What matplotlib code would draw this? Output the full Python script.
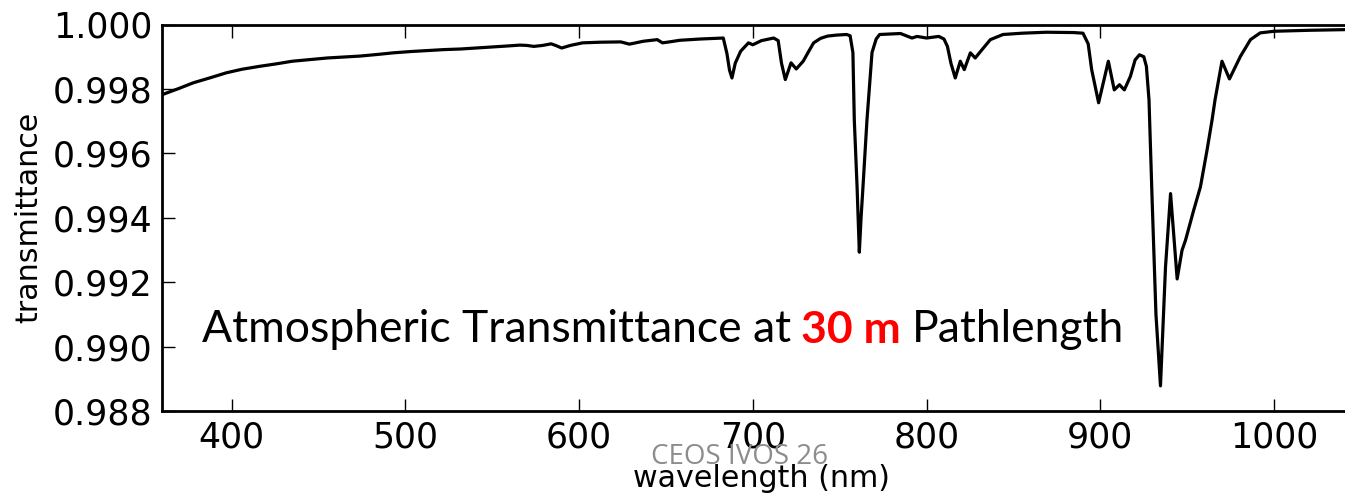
import matplotlib.pyplot as plt
from matplotlib.ticker import FormatStrFormatter

# wavelength (nm) and transmittance
wavelength = [360, 370, 378, 388, 397, 406, 416, 426, 435, 445, 455, 465, 474, 484, 493,
              503, 513, 522, 532, 541, 551, 558, 566, 570, 574, 579, 584, 587, 590, 595,
              602, 612, 624, 629, 637, 645, 648, 652, 658, 670, 683, 685.1, 686.6, 688,
              689.9, 693, 697.5, 700, 705, 712, 714.6, 716.5, 718.7, 722, 725, 729, 732,
              735, 739, 743, 748, 754, 756, 757.6, 758.4, 760, 761.3, 762.3, 763.4,
              765.7, 768.6, 771, 773, 785, 791.6, 794.5, 800, 807, 810, 812, 814, 816.5,
              819.4, 821.7, 825.2, 828, 831, 836.7, 844, 855, 869, 884.5, 890, 893, 895,
              899, 901.7, 904.6, 908, 911, 913.8, 917.3, 920, 922.5, 925, 926.5, 928,
              929.8, 932, 934.6, 937.5, 940.4, 944.2, 947, 949, 953.7, 957.6, 961.4,
              964.3, 966, 970, 974.3, 980.6, 986.4, 992, 1000, 1020, 1050]
transmittance = [0.99782, 0.99802, 0.99819, 0.99835, 0.99850, 0.99861, 0.99870, 0.99878,
                 0.99886, 0.99891, 0.99896, 0.99899, 0.99902, 0.99907, 0.99912, 0.99916,
                 0.99919, 0.99922, 0.99924, 0.99927, 0.99930, 0.99933, 0.99936, 0.99935,
                 0.99932, 0.99935, 0.99940, 0.99934, 0.99927, 0.99935, 0.99943, 0.99945,
                 0.99946, 0.99939, 0.99948, 0.99953, 0.99943, 0.99946, 0.99951, 0.99955,
                 0.99958, 0.99910, 0.99858, 0.99834, 0.99880, 0.99917, 0.99943, 0.99937,
                 0.99950, 0.99958, 0.99950, 0.99880, 0.99829, 0.99881, 0.99862, 0.99886,
                 0.99915, 0.99943, 0.99957, 0.99964, 0.99967, 0.99969, 0.99965, 0.99913,
                 0.99704, 0.99496, 0.99293, 0.99400, 0.99496, 0.99704, 0.99913, 0.99955,
                 0.99969, 0.99972, 0.99958, 0.99963, 0.99958, 0.99963, 0.99955, 0.99932,
                 0.99880, 0.99834, 0.99886, 0.99860, 0.99912, 0.99896, 0.99916, 0.99953,
                 0.99969, 0.99973, 0.99976, 0.99975, 0.99973, 0.99940, 0.99860, 0.99757,
                 0.99819, 0.99886, 0.99797, 0.99813, 0.99797, 0.99839, 0.99890, 0.99906,
                 0.99900, 0.99870, 0.99766, 0.99455, 0.99100, 0.98878, 0.99247, 0.99475,
                 0.99210, 0.99299, 0.99330, 0.99423, 0.99496, 0.99610, 0.99704, 0.99766,
                 0.99886, 0.99831, 0.99901, 0.99953, 0.99974, 0.99979, 0.99982, 0.99985]

xticks = [400, 500, 600, 700, 800, 900, 1000]
yticks = [0.988, 0.990, 0.992, 0.994, 0.996, 0.998, 1.000]

fig = plt.figure(figsize=(13.45, 4.95), dpi=100)
ax = fig.add_axes([162/1345, 84/495, 1199/1345, 386.5/495])

ax.plot(wavelength, transmittance, color='black', lw=2.3)
ax.set_xlim(360, 1050)
ax.set_ylim(0.988, 1.000)
ax.set_xticks(xticks)
ax.set_yticks(yticks)
ax.yaxis.set_major_formatter(FormatStrFormatter('%.3f'))
ax.tick_params(direction='in', length=9, width=1, labelsize=25, pad=7,
               top=True, right=True)
for s in ax.spines.values():
    s.set_linewidth(2)

ax.set_xlabel('wavelength (nm)', fontsize=21.7, labelpad=7)
ax.set_ylabel('transmittance', fontsize=21.7, labelpad=7)

# annotation inside the plot, with the red bold part
t1 = fig.text(201.7/1345, (495-341.7)/495, 'Atmospheric Transmittance at',
              fontsize=32, family='Lato', va='baseline', ha='left')
t2 = ax.annotate('30 m', xy=(1, 0), xycoords=t1, xytext=(7.5, 0),
                 textcoords='offset points', fontsize=32, family='Lato',
                 fontweight='bold', color='#ff0000', va='bottom', ha='left')
t3 = ax.annotate('Pathlength', xy=(1, 0), xycoords=t2, xytext=(7.5, 0),
                 textcoords='offset points', fontsize=32, family='Lato',
                 va='bottom', ha='left')

fig.text(740/1345, (495-457)/495, 'CEOS IVOS 26', fontsize=20, family='Open Sans',
         color='#8c8c8c', ha='center', va='center')

fig.savefig('out.png', dpi=100)
